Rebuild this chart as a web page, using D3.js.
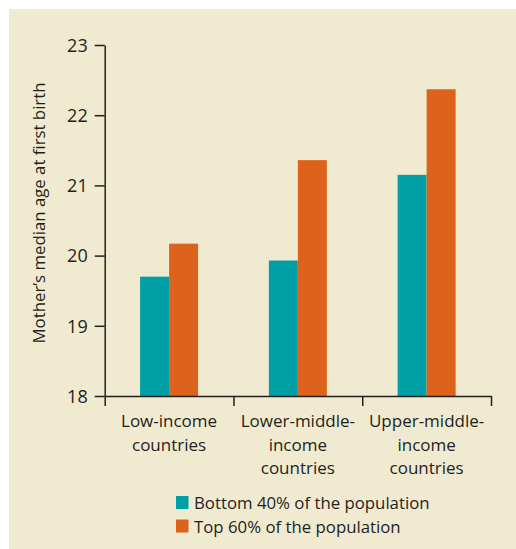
<!DOCTYPE html>
<html><head><meta charset="utf-8">
<script src="https://cdn.jsdelivr.net/npm/d3@7"></script>
<style>
html,body{margin:0;padding:0;background:#fff;}
svg text{font-family:"Open Sans","Noto Sans",sans-serif;fill:#231f20;}
</style></head>
<body>
<script>
const categories = [["Low-income","countries"],["Lower-middle-","income","countries"],["Upper-middle-","income","countries"]];
const categoryKeys = ["low","lower-middle","upper-middle"];
const seriesNames = ["Bottom 40% of the population","Top 60% of the population"];
const bottom40 = [19.70, 19.93, 21.15];
const top60 = [20.17, 21.36, 22.37];
const yTicks = [18,19,20,21,22,23];
const yTitle = "Mother\u2019s median age at first birth";
const colors = ["#00a0a6","#dd631d"];

const W = 516, H = 549;
const svg = d3.select("body").append("svg").attr("width",W).attr("height",H);
svg.append("rect").attr("x",9).attr("y",9).attr("width",W-9).attr("height",H-9).attr("fill","#f0ead0");

const x0 = 104.7, x1 = 491, yBase = 396, yTop = 45;
const x = d3.scaleBand().domain(categoryKeys).range([x0,x1]).paddingInner(0).paddingOuter(0);
const xs = d3.scaleBand().domain([0,1]).range([0,x.bandwidth()]).paddingInner(0).paddingOuter(1.22);
const y = d3.scaleLinear().domain([18,23]).range([yBase,yTop]);

const data = categoryKeys.map((k,i)=>({k, vals:[bottom40[i], top60[i]]}));
const g = svg.selectAll("g.cat").data(data).enter().append("g").attr("transform",d=>`translate(${x(d.k)},0)`);
g.selectAll("rect").data(d=>d.vals).enter().append("rect")
  .attr("x",(v,j)=>xs(j)).attr("width",xs.bandwidth())
  .attr("y",v=>y(v)).attr("height",v=>yBase-y(v))
  .attr("fill",(v,j)=>colors[j]);

// y axis
const yAxis = d3.axisLeft(y).tickValues(yTicks).tickSizeInner(10).tickSizeOuter(0).tickPadding(7).tickFormat(d3.format("d"));
const ya = svg.append("g").attr("transform",`translate(${x0},0)`).call(yAxis);
ya.selectAll("text").style("font-size","18px").attr("dy","0.35em");
ya.selectAll("path,line").attr("stroke","#231f20").attr("stroke-width",1.5);

// x axis
const xi = d3.scaleLinear().domain([0,categoryKeys.length]).range([x0,x1]);
const xAxis = d3.axisBottom(xi).tickValues(d3.range(categoryKeys.length+1)).tickSizeInner(10).tickSizeOuter(0).tickFormat("");
const xa = svg.append("g").attr("transform",`translate(0,${yBase})`).call(xAxis);
xa.selectAll("path,line").attr("stroke","#231f20").attr("stroke-width",1.5);

// category labels
categoryKeys.forEach((k,i)=>{
  const t = svg.append("text").attr("text-anchor","middle").style("font-size","17px")
    .attr("x", x(k)+x.bandwidth()/2).attr("y",427);
  categories[i].forEach((line,li)=>{
    t.append("tspan").attr("x",x(k)+x.bandwidth()/2).attr("y",427+li*23.5).text(line);
  });
});

// y title
svg.append("text").attr("transform",`translate(45,213) rotate(-90)`).attr("text-anchor","middle")
  .style("font-size","16.8px").text(yTitle);

// legend
const lg = svg.selectAll("g.leg").data(seriesNames).enter().append("g")
  .attr("transform",(d,i)=>`translate(176,${496+i*23.5})`);
lg.append("rect").attr("width",12.5).attr("height",13).attr("fill",(d,i)=>colors[i]);
lg.append("text").attr("x",18).attr("y",13).style("font-size","16.8px").text(d=>d);
</script>
</body></html>
